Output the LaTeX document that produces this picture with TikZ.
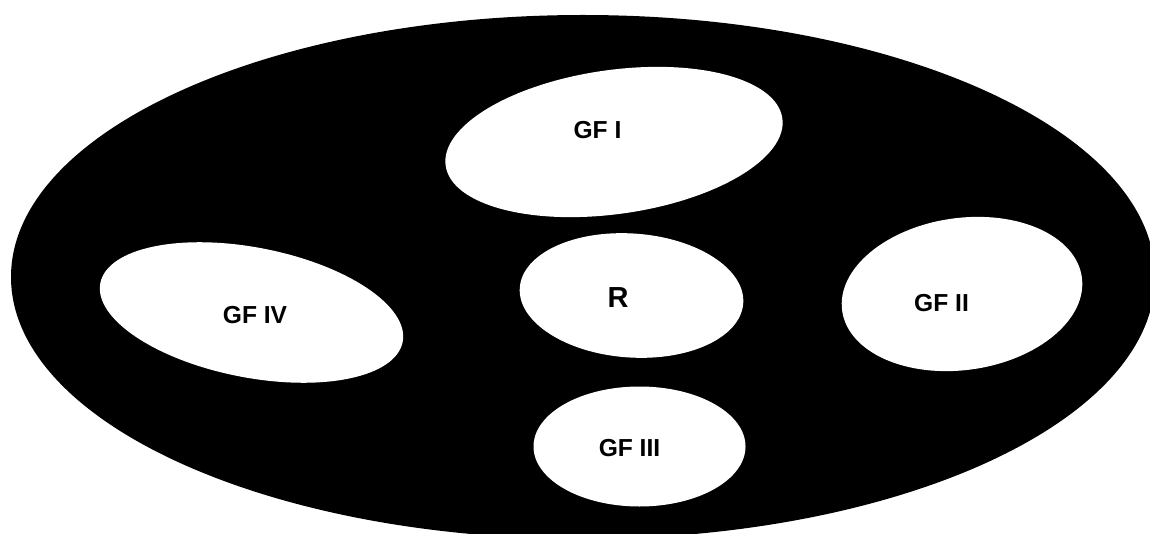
\documentclass[tikz,border=0pt]{standalone}
\usepackage{fontspec}
\setmainfont{Liberation Sans}
\usetikzlibrary{shapes.geometric}
\tikzset{
  outerblob/.style={ellipse, fill=black, draw=none, inner sep=0pt, outer sep=0pt},
  blob/.style={ellipse, fill=white, draw=none, inner sep=0pt, outer sep=0pt},
  lbl/.style={inner sep=0pt, font=\fontsize{12.3}{14}\selectfont\bfseries, text=black},
  biglbl/.style={inner sep=0pt, font=\fontsize{14.5}{17}\selectfont\bfseries, text=black}
}
\begin{document}
\begin{tikzpicture}[x=0.5pt,y=-0.5pt]
\useasboundingbox (0,0) rectangle (1150,534);
\clip (0,0) rectangle (1150,534);
\node[outerblob, minimum width=572pt, minimum height=262pt] (outer) at (583,277) {};
\node[blob, minimum width=170pt, minimum height=72pt, rotate=8] (gf1) at (614,142) {};
\node[blob, minimum width=154pt, minimum height=65pt, rotate=-11] (gf4) at (251.5,312.5) {};
\node[blob, minimum width=112pt, minimum height=62pt, rotate=-4] (r) at (631.5,295.5) {};
\node[blob, minimum width=121pt, minimum height=76pt, rotate=8] (gf2) at (962,294) {};
\node[blob, minimum width=106pt, minimum height=60pt] (gf3) at (639.5,446.5) {};
\node[lbl] (t1) at (597.5,130.5) {GF I};
\node[lbl] (t4) at (255,315.5) {GF IV};
\node[biglbl] (tr) at (618,298) {R};
\node[lbl] (t2) at (941.5,303) {GF II};
\node[lbl] (t3) at (629.5,448.5) {GF III};
\end{tikzpicture}
\end{document}
